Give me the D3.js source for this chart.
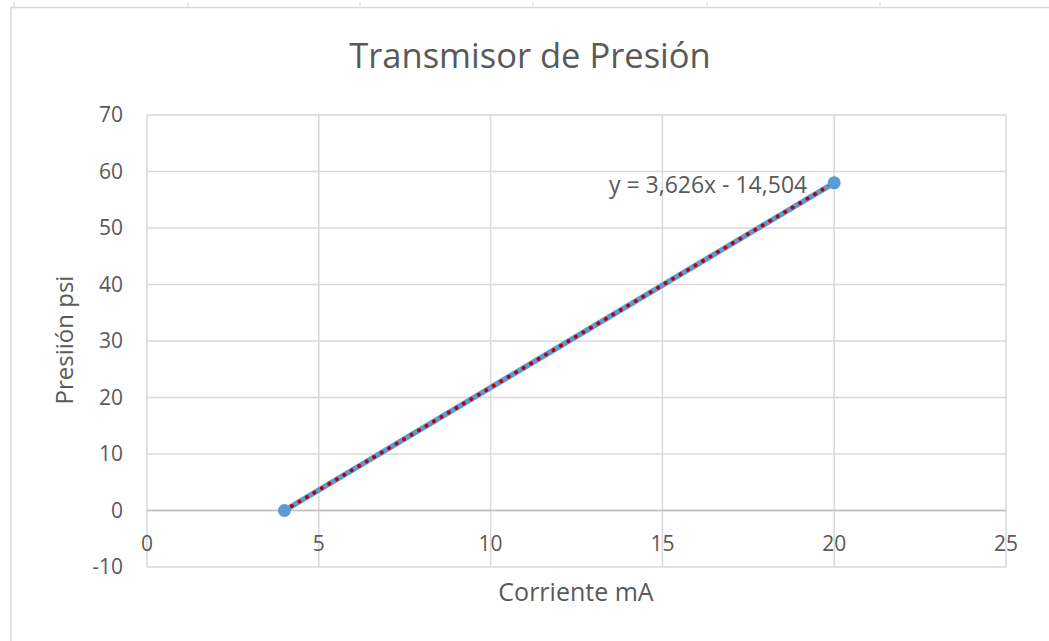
<!DOCTYPE html>
<html>
<head>
<meta charset="utf-8">
<script src="https://cdn.jsdelivr.net/npm/d3@7"></script>
<style>
  html, body { margin: 0; padding: 0; background: #fff; }
  svg { display: block; }
  text { font-family: "Open Sans", sans-serif; fill: #595959; }
</style>
</head>
<body>
<svg id="chart" width="1049" height="641"></svg>
<script>
// data
const corriente = [4, 20];
const presion = [0, 58];
const trend = { slope: 3.626, intercept: -14.504 };
const trendLabel = "y = 3,626x - 14,504";
const xTicks = [0, 5, 10, 15, 20, 25];
const yTicks = [-10, 0, 10, 20, 30, 40, 50, 60, 70];
const titleText = "Transmisor de Presión";
const xTitle = "Corriente mA";
const yTitle = "Presiión psi";
const sheetCols = [14, 188, 360, 533, 707, 880];

const width = 1049, height = 641;
const margin = { left: 147, right: 43, top: 115, bottom: 74 };

const svg = d3.select('#chart');

// spreadsheet column marks above the chart frame
svg.selectAll('line.col')
    .data(sheetCols)
    .enter().append('line')
    .attr('class', 'col')
    .attr('x1', d => d).attr('x2', d => d)
    .attr('y1', 2).attr('y2', 7)
    .attr('stroke', '#d4d4d4').attr('stroke-width', 1);

// chart area frame (only left/top visible)
svg.append('path')
    .attr('d', 'M11,' + height + ' L11,7.5 L' + width + ',7.5')
    .attr('fill', 'none')
    .attr('stroke', '#d9d9d9')
    .attr('stroke-width', 1.5);

const x = d3.scaleLinear().domain([0, 25]).range([margin.left, width - margin.right]);
const y = d3.scaleLinear().domain([-10, 70]).range([height - margin.bottom, margin.top]);

const g = svg.append('g');

// gridlines
g.selectAll('line.hgrid')
    .data(yTicks)
    .enter().append('line')
    .attr('class', 'hgrid')
    .attr('x1', x(0)).attr('x2', x(25))
    .attr('y1', d => y(d)).attr('y2', d => y(d))
    .attr('stroke', '#d9d9d9').attr('stroke-width', 1.5);

g.selectAll('line.vgrid')
    .data(xTicks)
    .enter().append('line')
    .attr('class', 'vgrid')
    .attr('x1', d => x(d)).attr('x2', d => x(d))
    .attr('y1', y(-10)).attr('y2', y(70))
    .attr('stroke', '#d9d9d9').attr('stroke-width', 1.5);

// x axis line at y = 0
g.append('line')
    .attr('x1', x(0)).attr('x2', x(25))
    .attr('y1', y(0)).attr('y2', y(0))
    .attr('stroke', '#bfbfbf').attr('stroke-width', 1.5);

// y tick labels
g.selectAll('text.ylab')
    .data(yTicks)
    .enter().append('text')
    .attr('class', 'ylab')
    .attr('x', x(0) - 24)
    .attr('y', d => y(d))
    .attr('dy', '0.35em')
    .attr('text-anchor', 'end')
    .style('font-size', '21px')
    .text(d => d);

// x tick labels (below the axis at 0)
g.selectAll('text.xlab')
    .data(xTicks)
    .enter().append('text')
    .attr('class', 'xlab')
    .attr('x', d => x(d))
    .attr('y', y(0) + 33)
    .attr('dy', '0.35em')
    .attr('text-anchor', 'middle')
    .style('font-size', '21px')
    .text(d => d);

// series line
const line = d3.line().x(d => x(d[0])).y(d => y(d[1]));
const pts = corriente.map((c, i) => [c, presion[i]]);

g.append('path')
    .datum(pts)
    .attr('d', line)
    .attr('fill', 'none')
    .attr('stroke', '#5b9bd5')
    .attr('stroke-width', 5.5);

// trendline (round dot)
const xMin = d3.min(corriente), xMax = d3.max(corriente);
const trendPts = [xMin, xMax].map(v => [v, trend.slope * v + trend.intercept]);
g.append('path')
    .datum(trendPts)
    .attr('d', line)
    .attr('fill', 'none')
    .attr('stroke', '#c00000')
    .attr('stroke-width', 4)
    .attr('stroke-linecap', 'round')
    .attr('stroke-dasharray', '0.1 8.6');

// markers
g.selectAll('circle')
    .data(pts)
    .enter().append('circle')
    .attr('cx', d => x(d[0]))
    .attr('cy', d => y(d[1]))
    .attr('r', 6.5)
    .attr('fill', '#5b9bd5');

// trendline equation
g.append('text')
    .attr('x', x(20) - 27)
    .attr('y', y(trendPts[1][1]) + 2)
    .attr('dy', '0.35em')
    .attr('text-anchor', 'end')
    .style('font-size', '23px')
    .text(trendLabel);

// titles
svg.append('text')
    .attr('x', 530)
    .attr('y', 68)
    .attr('text-anchor', 'middle')
    .style('font-size', '34.5px')
    .text(titleText);

svg.append('text')
    .attr('x', 576)
    .attr('y', 601)
    .attr('text-anchor', 'middle')
    .style('font-size', '25px')
    .text(xTitle);

svg.append('text')
    .attr('transform', 'translate(73,340) rotate(-90)')
    .attr('text-anchor', 'middle')
    .style('font-size', '24px')
    .text(yTitle);
</script>
</body>
</html>
